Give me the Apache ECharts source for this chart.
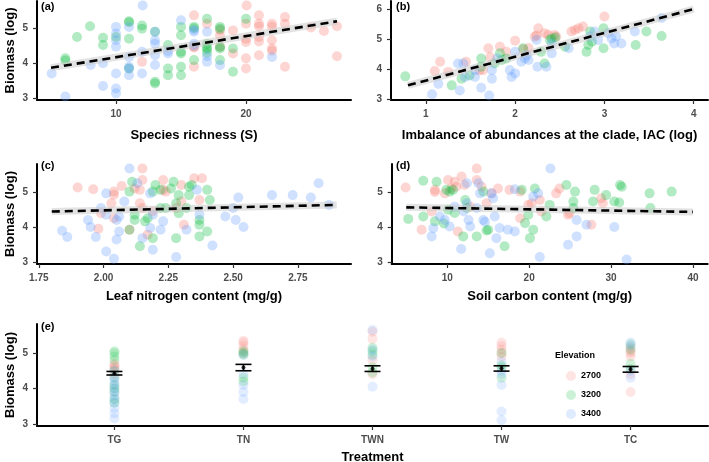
<!DOCTYPE html>
<html><head><meta charset="utf-8">
<script src="https://cdn.jsdelivr.net/npm/echarts@6/dist/echarts.min.js"></script>
<style>html,body{margin:0;padding:0;background:#fff}#c{width:709px;height:462px}</style>
</head><body><div id="c"></div>
<script>
// ---------- DATA ----------
const elevations = ['2700', '3200', '3400'];
const treatments = ['TG', 'TN', 'TWN', 'TW', 'TC'];

// (a) Species richness vs biomass
const richness_2700 = [[12,4.04],[16,5.37],[16,4.47],[16,3.9],[17,5.13],[18,4.8],[18,4.47],[19,4.94],[19,4.28],[20.05,5.65],[20,5.13],[20,4.7],[20,4.61],[20,4.14],[20,3.85],[21,5.37],[21,5.13],[21,5.05],[21,4.75],[21,4.62],[21,4.23],[22,5.13],[22,5.05],[22,4.66],[22,4.42],[22,4.36],[23,5.32],[23,5.13],[23,3.9],[25,5.02],[26,4.92],[27,5.06],[27,4.2],[16,4.45],[18,4.95]];
const richness_3200 = [[6.1,4.14],[6.1,4.08],[7,4.75],[8,5.06],[9,4.73],[9,4.52],[10,4.75],[11,5.2],[11,5.17],[11,4.7],[11,3.85],[12,5.08],[12,4.99],[13,3.47],[13,3.42],[13,4.9],[14,4.52],[14,3.85],[14,3.66],[15,5.04],[15,4.8],[15,4.33],[15,4.28],[15,3.9],[15,3.66],[16,5.04],[16,4.09],[17,5.27],[17,4.56],[17,4.4],[17,4.3],[17,4.45],[18,5.04],[18,4.99],[18,4.47],[18,4.42],[18,4.09],[19,4.42],[19,3.76],[20,5.27],[16,5.0]];
const richness_3400 = [[5.05,3.71],[6.1,3.05],[8.05,3.95],[9,4.0],[9,3.35],[10,5.04],[10,4.85],[10,4.66],[10,4.47],[10,3.71],[10,3.28],[10,3.14],[11,5.04],[11,4.18],[11,3.9],[11,3.85],[11,3.66],[12.05,5.65],[12,4.33],[12,3.71],[13,4.9],[13,4.66],[13,4.56],[13,4.23],[13,3.95],[14,4.28],[14,4.35],[15,5.23],[16,4.9],[16,4.56],[16,4.5],[17,4.9],[17,4.04],[17,4.2],[18,3.95],[22,4.18],[16,4.95]];
const fit_richness = [[5,3.87],[27,5.2]];

// (b) IAC vs biomass
const iac_2700 = [[1.1,3.93],[1.16,4.24],[1.25,3.9],[1.45,4.24],[1.64,3.96],[1.72,4.4],[1.7,4.69],[1.83,4.74],[1.9,4.57],[2.0,4.94],[2.09,4.66],[2.22,5.08],[2.24,5.12],[2.26,5.36],[2.33,5.19],[2.37,5.14],[2.44,5.13],[2.46,5.08],[2.63,5.25],[2.67,5.3],[2.76,5.42],[2.71,5.36],[3.0,5.75],[2.15,4.7],[1.6,3.95]];
const iac_3200 = [[0.77,3.75],[1.29,3.45],[1.4,3.67],[1.49,3.78],[1.62,4.35],[1.62,4.07],[1.77,4.18],[1.83,4.52],[1.85,4.3],[1.9,4.35],[2.09,4.69],[2.29,4.57],[2.33,4.18],[2.41,5.02],[2.39,4.97],[2.56,4.74],[2.8,4.57],[2.82,4.8],[2.84,5.25],[2.86,4.91],[2.99,4.69],[2.99,5.36],[3.35,4.8],[3.47,5.25],[3.64,5.1],[2.45,5.05]];
const iac_3400 = [[1.07,3.15],[1.14,3.5],[1.36,4.18],[1.42,4.18],[1.38,3.28],[1.44,3.73],[1.55,3.96],[1.55,3.73],[1.62,3.37],[1.71,3.11],[1.74,3.96],[1.74,3.67],[1.8,4.35],[1.94,3.96],[1.96,3.73],[2.0,3.85],[2.0,4.57],[2.07,4.24],[2.11,4.35],[2.13,4.46],[2.15,4.3],[2.24,4.97],[2.25,4.07],[2.35,4.07],[2.41,4.85],[2.41,4.52],[2.6,4.69],[2.84,5.08],[2.89,5.25],[2.93,4.97],[3.04,5.19],[3.08,5.02],[3.13,5.08],[3.19,4.85],[3.11,4.85],[3.34,5.25],[3.64,5.7]];
const fit_iac = [[0.8,3.45],[4,6.0]];

// (c) Leaf nitrogen vs biomass
const leafN_2700 = [[1.90,5.13],[1.96,5.08],[1.98,3.95],[1.99,4.39],[2.03,4.68],[2.04,5.01],[2.04,4.92],[2.04,4.25],[2.07,5.17],[2.1,3.92],[2.14,5.06],[2.15,5.67],[2.15,5.34],[2.14,4.68],[2.15,4.54],[2.17,3.78],[2.23,5.06],[2.23,5.34],[2.24,5.01],[2.28,4.54],[2.3,5.2],[2.3,4.73],[2.31,4.06],[2.35,5.39],[2.37,4.77],[2.38,5.39],[2.12,5.1],[2.19,4.45]];
const leafN_3200 = [[2.1,5.01],[2.1,3.92],[2.11,5.29],[2.12,4.35],[2.12,4.2],[2.14,3.45],[2.17,4.25],[2.16,4.16],[2.19,3.68],[2.19,5.01],[2.2,5.2],[2.22,5.06],[2.22,4.54],[2.24,4.54],[2.27,5.29],[2.26,5.1],[2.28,4.68],[2.28,3.68],[2.29,4.91],[2.29,4.39],[2.32,4.54],[2.33,5.15],[2.34,5.2],[2.33,4.91],[2.37,4.2],[2.37,4.06],[2.37,3.73],[2.4,5.06],[2.41,4.77],[2.4,3.87]];
const leafN_3400 = [[1.84,3.89],[1.86,3.71],[1.94,4.2],[1.95,4.0],[1.97,3.71],[1.99,4.54],[2.01,4.96],[2.01,4.35],[2.01,3.3],[2.04,3.09],[2.05,3.64],[2.06,3.87],[2.05,4.2],[2.06,4.3],[2.08,4.73],[2.1,5.67],[2.13,5.25],[2.15,3.68],[2.19,4.35],[2.18,3.97],[2.19,3.35],[2.18,4.96],[2.22,3.92],[2.23,4.16],[2.28,3.14],[2.32,3.92],[2.36,5.06],[2.37,4.35],[2.42,3.47],[2.47,4.3],[2.5,4.54],[2.51,4.2],[2.54,4.0],[2.52,4.84],[2.65,4.91],[2.73,4.91],[2.8,4.84],[2.83,5.25],[2.87,4.63]];
const fit_leafN = [[1.8,4.44],[2.9,4.63]];

// (d) Soil carbon vs biomass
const soilC_2700 = [[4.92,5.13],[6.87,3.92],[8.09,4.44],[8.5,5.06],[8.5,5.0],[9.7,4.96],[10.1,5.34],[10.5,5.1],[10.9,5.29],[11.1,5.15],[11.3,3.87],[11.75,5.44],[12.1,5.2],[12.8,4.58],[13.6,5.67],[13.6,5.34],[14.2,5.15],[14.8,4.68],[15.4,4.96],[16.2,5.1],[17.6,5.06],[18.9,5.01],[18.9,4.25],[19.9,4.63],[20.3,4.68],[21.3,4.77],[21.5,4.44],[23.3,4.96],[23.7,5.1],[24.75,4.35],[24.95,4.4],[27.6,4.06],[28.8,4.82],[29,4.68]];
const soilC_3200 = [[5.24,4.23],[7.07,5.32],[7.07,4.3],[8.5,4.16],[8.7,5.29],[9.9,5.06],[10.3,5.01],[10.1,4.49],[10.7,5.06],[10.9,4.4],[11.95,3.73],[12.2,4.77],[12.4,4.54],[13.6,3.73],[14.4,5.01],[15.0,3.92],[17.0,3.45],[19.1,5.06],[19.5,4.11],[19.9,4.35],[20.1,3.68],[20.5,3.92],[20.7,5.1],[22.1,4.3],[22.5,4.63],[24.55,5.2],[25.4,4.73],[25.6,5.01],[25.4,4.54],[27.8,4.73],[28.0,5.06],[29.4,4.91],[30.4,4.73],[31.0,4.7],[31.1,5.2],[31.3,5.15],[34.7,4.96],[34.8,4.54],[37.4,5.01],[9.6,4.1],[14.8,3.9]];
const soilC_3400 = [[8.3,3.96],[8.1,3.73],[9.1,4.3],[10.3,4.01],[9.7,4.2],[10.9,4.58],[11.7,3.37],[12.4,5.25],[12.4,4.68],[12.6,4.2],[12.8,4.01],[13.8,5.25],[14.0,4.96],[13.6,4.54],[14.4,4.2],[14.6,4.15],[15.2,3.25],[15.4,4.96],[15.6,4.82],[15.8,4.3],[16.0,3.68],[16.4,3.97],[17.4,3.92],[18.25,3.87],[18.25,5.08],[20.5,4.87],[21.1,4.96],[21.3,3.14],[22.6,5.67],[24.75,3.49],[25.8,4.2],[25.8,3.73],[27.0,4.06],[30.4,4.0],[31.9,3.07],[12.0,4.45]];
const fit_soilC = [[5,4.56],[40,4.43]];

// (e) Treatment vs biomass (x = treatment index)
const treat_2700 = [[0,4.7],[0,4.65],[0,4.6],[0,4.55],[0,4.4],[1,5.35],[1,5.3],[1,5.2],[1,5.1],[1,5.0],[2,5.4],[2,4.8],[2,5.6],[2,4.4],[3,5.3],[3,5.2],[3,5.1],[3,4.9],[3,5.0],[4,5.15],[4,5.05],[4,4.9],[4,5.0],[4,3.9],[4,4.4]];
const treat_3200 = [[0,5.05],[0,5.0],[0,4.9],[0,4.8],[0,4.5],[0,4.3],[0,4.1],[0,4.0],[0,3.9],[0,3.7],[0,3.6],[1,5.05],[1,5.0],[1,4.95],[1,4.3],[1,4.2],[2,5.15],[2,5.05],[2,4.95],[2,4.6],[2,4.45],[3,5.0],[3,4.65],[3,4.3],[3,4.6],[4,5.25],[4,4.7],[4,4.55],[4,5.1]];
const treat_3400 = [[0,4.5],[0,4.3],[0,4.2],[0,4.1],[0,4.0],[0,3.9],[0,3.8],[0,3.7],[0,3.6],[0,3.45],[0,3.3],[0,3.15],[1,4.95],[1,4.4],[1,4.1],[1,3.9],[1,3.7],[2,5.65],[2,5.1],[2,4.9],[2,4.05],[3,4.75],[3,4.5],[3,4.4],[3,4.1],[3,3.35],[3,3.1],[4,5.3],[4,5.2],[4,4.5],[4,4.3]];
const treat_mean = [4.43, 4.59, 4.56, 4.57, 4.54];
const treat_lower = [4.38, 4.50, 4.48, 4.49, 4.46];
const treat_upper = [4.48, 4.68, 4.64, 4.64, 4.62];

// ---------- STYLE ----------
const FONT = 'Liberation Sans, Arial, sans-serif';
const COLORS = ['#F8766D', '#00BA38', '#619CFF'];

function valAxis(gi, min, max, ticks, fmt, name, nameGap) {
  return {
    type: 'value', gridIndex: gi, min: min, max: max,
    splitLine: {show: false},
    axisLine: {show: true, onZero: false, lineStyle: {color: '#000', width: 2}},
    axisTick: {show: true, length: 4, lineStyle: {color: '#333', width: 1.2}, customValues: ticks},
    axisLabel: {customValues: ticks, color: '#4d4d4d', fontWeight: 'bold', fontSize: 10, fontFamily: FONT, margin: 9,
      formatter: fmt || (v => String(v))},
    name: name || '', nameLocation: 'middle', nameGap: nameGap || 0, nameMoveOverlap: false,
    nameTextStyle: {color: '#000', fontWeight: 'bold', fontSize: 13, fontFamily: FONT}
  };
}
function yAxis(gi, min, max, ticks, withName) {
  const a = valAxis(gi, min, max, ticks, null, withName ? 'Biomass (log)' : '', 20);
  a.nameRotate = 90;
  a.axisLabel.margin = 9;
  return a;
}
function scatter(name, data, gi, color, op) {
  return {type: 'scatter', name: name, xAxisIndex: gi, yAxisIndex: gi, data: data, symbolSize: 10,
    itemStyle: {color: color, opacity: op}, silent: true, z: 2};
}
function fit(data, gi) {
  return [
    {type: 'line', xAxisIndex: gi, yAxisIndex: gi, data: data, symbol: 'none', silent: true, z: 3,
      lineStyle: {color: 'rgba(200,200,200,0.5)', width: 7}},
    {type: 'line', xAxisIndex: gi, yAxisIndex: gi, data: data, symbol: 'none', silent: true, z: 4,
      lineStyle: {color: '#000', width: 2.6, type: [8, 5]}}
  ];
}

const grids = [
  {left: 37, top: 1, width: 314, height: 99},
  {left: 391, top: 1, width: 317, height: 99},
  {left: 37, top: 164, width: 314, height: 100},
  {left: 391.7, top: 164, width: 316, height: 100},
  {left: 37, top: 324, width: 671, height: 102}
].map(g => Object.assign(g, {outerBoundsMode: 'none', containLabel: false}));

const xAxes = [
  valAxis(0, 3.92, 28.08, [10, 20], null, 'Species richness (S)', 29),
  valAxis(1, 0.61, 4.16, [1, 2, 3, 4], null, 'Imbalance of abundances at the clade, IAC (log)', 29),
  valAxis(2, 1.743, 2.955, [1.75, 2.0, 2.25, 2.5, 2.75], v => v.toFixed(2), 'Leaf nitrogen content (mg/g)', 26),
  valAxis(3, 3.22, 41.8, [10, 20, 30, 40], null, 'Soil carbon content (mg/g)', 26),
  valAxis(4, -0.6, 4.6, [0, 1, 2, 3, 4], v => treatments[Math.round(v)], 'Treatment', 25)
];
const yAxes = [
  yAxis(0, 2.95, 5.78, [3, 4, 5], true),
  yAxis(1, 2.96, 6.27, [3, 4, 5, 6], false),
  yAxis(2, 2.94, 5.8, [3, 4, 5], true),
  yAxis(3, 2.94, 5.8, [3, 4, 5], false),
  yAxis(4, 2.94, 5.82, [3, 4, 5], true)
];

const panels = [
  [richness_2700, richness_3200, richness_3400, fit_richness],
  [iac_2700, iac_3200, iac_3400, fit_iac],
  [leafN_2700, leafN_3200, leafN_3400, fit_leafN],
  [soilC_2700, soilC_3200, soilC_3400, fit_soilC]
];
const series = [];
panels.forEach((p, gi) => {
  for (let k = 0; k < 3; k++) series.push(scatter(elevations[k], p[k], gi, COLORS[k], 0.3));
  series.push(...fit(p[3], gi));
});
[treat_2700, treat_3200, treat_3400].forEach((d, k) => series.push(scatter(elevations[k], d, 4, COLORS[k], 0.18)));
series.push({
  type: 'custom', xAxisIndex: 4, yAxisIndex: 4, silent: true, z: 5,
  data: treatments.map((t, i) => [i, treat_lower[i], treat_upper[i]]),
  encode: {x: 0, y: [1, 2]},
  renderItem: function (params, api) {
    const x = api.value(0);
    const lo = api.coord([x, api.value(1)]);
    const hi = api.coord([x, api.value(2)]);
    const h = 8;
    const st = {stroke: '#000', lineWidth: 1.6};
    return {type: 'group', children: [
      {type: 'line', shape: {x1: lo[0], y1: lo[1], x2: hi[0], y2: hi[1]}, style: st},
      {type: 'line', shape: {x1: lo[0] - h, y1: lo[1], x2: lo[0] + h, y2: lo[1]}, style: st},
      {type: 'line', shape: {x1: hi[0] - h, y1: hi[1], x2: hi[0] + h, y2: hi[1]}, style: st}
    ]};
  }
});
series.push({type: 'scatter', xAxisIndex: 4, yAxisIndex: 4, silent: true, z: 6, symbolSize: 4,
  itemStyle: {color: '#000'}, data: treat_mean.map((m, i) => [i, m])});

const tag = (t, x, y) => ({type: 'text', left: x, top: y,
  style: {text: t, font: 'bold 11px ' + FONT, fill: '#000'}});

const chart = echarts.init(document.getElementById('c'), null, {renderer: 'canvas'});
chart.setOption({
  animation: false,
  backgroundColor: '#fff',
  grid: grids,
  xAxis: xAxes,
  yAxis: yAxes,
  legend: {
    data: elevations.map((e, k) => ({name: e, itemStyle: {color: COLORS[k], opacity: 0.2}})),
    orient: 'vertical', left: 561, top: 366, icon: 'circle', itemWidth: 10, itemHeight: 10, itemGap: 9,
    selectedMode: false,
    textStyle: {fontWeight: 'bold', fontSize: 9, fontFamily: FONT, color: '#000'}
  },
  graphic: [
    tag('(a)', 41, 1), tag('(b)', 396, 1), tag('(c)', 41, 160), tag('(d)', 396, 160), tag('(e)', 41, 321),
    {type: 'text', left: 555, top: 351, style: {text: 'Elevation', font: 'bold 9px ' + FONT, fill: '#000'}}
  ],
  series: series
});
</script></body></html>
